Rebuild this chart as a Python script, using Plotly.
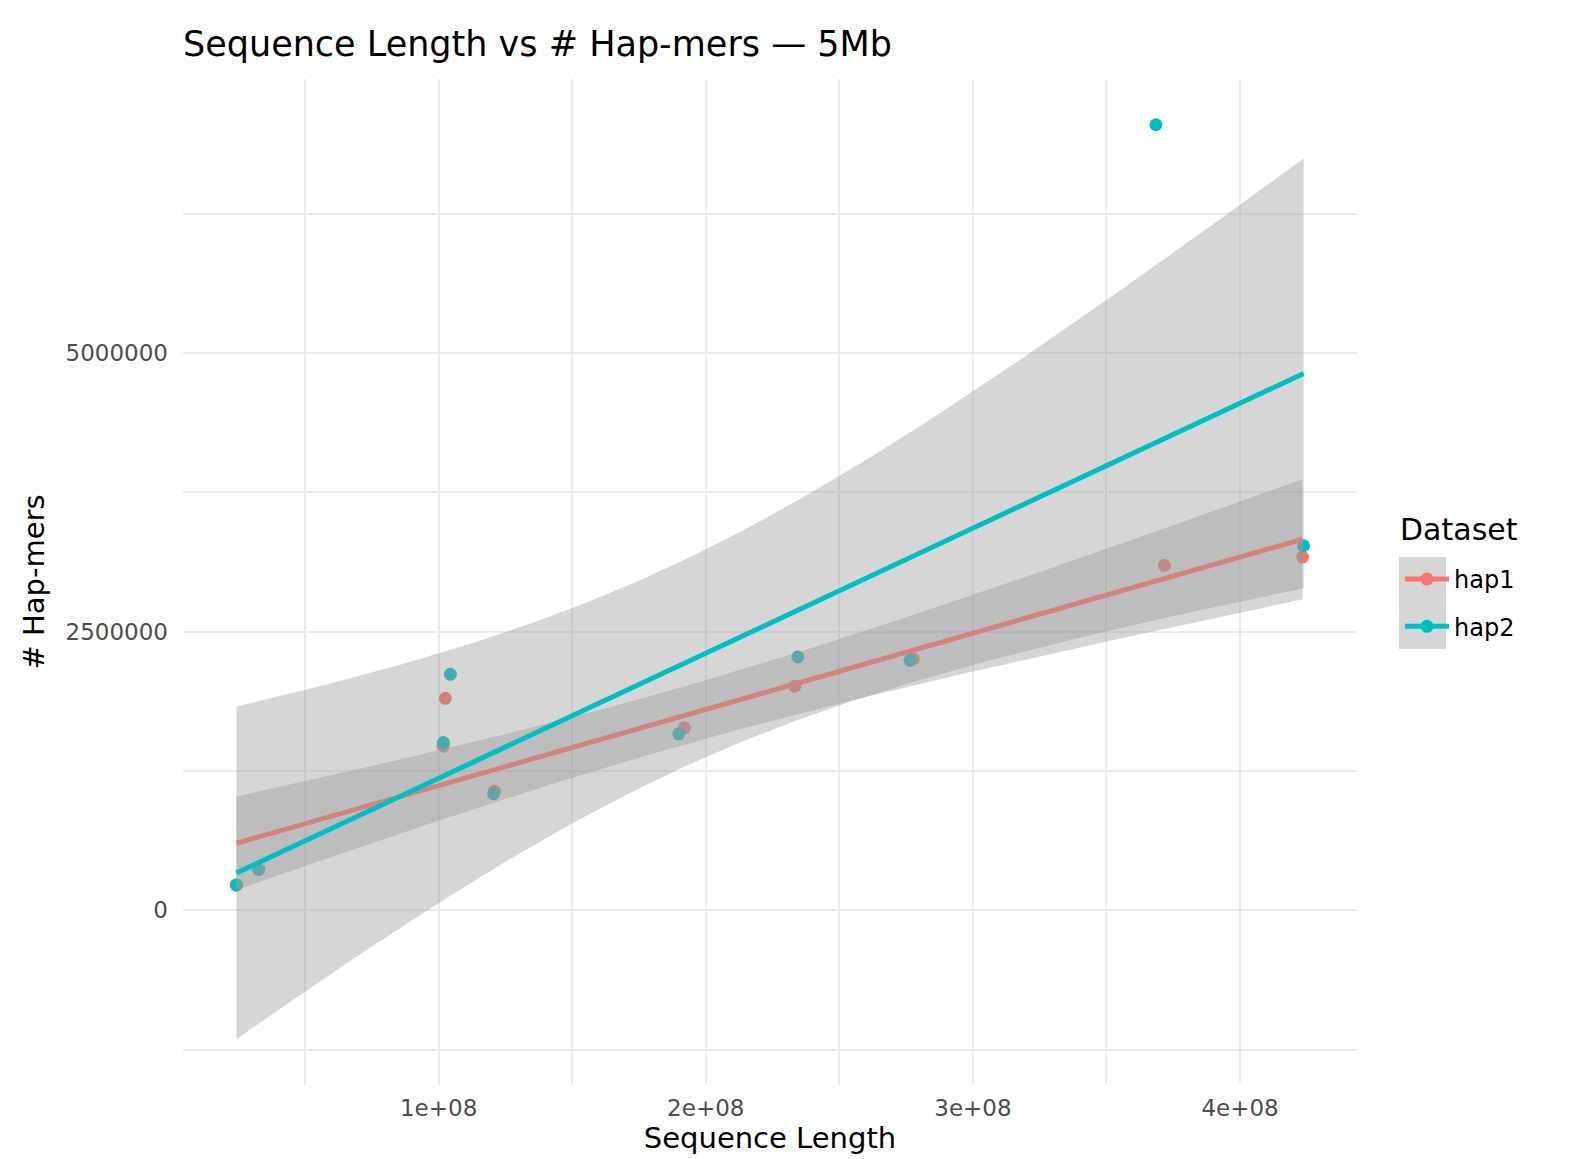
import numpy as np
import plotly.graph_objects as go

# Sequence length (bp) and hap-mer counts per sequence, for each haplotype
hap1_len = [2.43e7, 3.26e7, 1.025e8, 1.017e8, 1.209e8, 1.920e8, 2.333e8, 2.777e8, 3.717e8, 4.234e8]
hap1_mers = [227000, 367000, 1902000, 1472000, 1069000, 1637000, 2010000, 2255000, 3094000, 3169000]

hap2_len = [2.43e7, 3.26e7, 1.044e8, 1.018e8, 1.206e8, 1.899e8, 2.345e8, 2.765e8, 3.685e8, 4.238e8]
hap2_mers = [227000, 367000, 2117000, 1505000, 1046000, 1583000, 2273000, 2243000, 7049000, 3271000]

x_tick_vals = [1e8, 2e8, 3e8, 4e8]
x_tick_text = ["1e+08", "2e+08", "3e+08", "4e+08"]
y_tick_vals = [0, 2500000, 5000000]
y_tick_text = ["0", "2500000", "5000000"]

COL1 = "#F8766D"
COL2 = "#00BFC4"
RIBBON = "rgba(153,153,153,0.4)"
T_CRIT = 2.306004  # 97.5% quantile of Student's t, 8 degrees of freedom


def lm_band(x, y, n=100):
    """Ordinary least squares fit with 95% confidence band for the mean."""
    x = np.asarray(x, float) / 1e8
    y = np.asarray(y, float)
    slope, icpt = np.polyfit(x, y, 1)
    resid = y - (slope * x + icpt)
    s = np.sqrt(np.sum(resid ** 2) / (len(x) - 2))
    sxx = np.sum((x - x.mean()) ** 2)
    xs = np.linspace(x.min(), x.max(), n)
    fit = slope * xs + icpt
    se = s * np.sqrt(1.0 / len(x) + (xs - x.mean()) ** 2 / sxx)
    return xs * 1e8, fit, fit - T_CRIT * se, fit + T_CRIT * se


fits = {
    "hap1": lm_band(hap1_len, hap1_mers),
    "hap2": lm_band(hap2_len, hap2_mers),
}

fig = go.Figure()

# raw points
for name, xv, yv, col in [("hap1", hap1_len, hap1_mers, COL1), ("hap2", hap2_len, hap2_mers, COL2)]:
    fig.add_trace(go.Scatter(x=xv, y=yv, mode="markers", marker=dict(color=col, size=13),
                             showlegend=False, hoverinfo="x+y"))

# smoothers: ribbon then line, per group
for name, col in [("hap1", COL1), ("hap2", COL2)]:
    xs, fit, lo, hi = fits[name]
    fig.add_trace(go.Scatter(x=np.concatenate([xs, xs[::-1]]), y=np.concatenate([hi, lo[::-1]]),
                             mode="lines", fill="toself", fillcolor=RIBBON, line=dict(width=0),
                             showlegend=False, hoverinfo="skip"))
    fig.add_trace(go.Scatter(x=xs, y=fit, mode="lines", line=dict(color=col, width=5),
                             showlegend=False, hoverinfo="skip"))

# legend entries
for name, col in [("hap1", COL1), ("hap2", COL2)]:
    fig.add_trace(go.Scatter(x=[None], y=[None], mode="lines+markers", name=name, legendgroup=name,
                             line=dict(color=col, width=5), marker=dict(color=col, size=13)))

# axis ranges with 5% expansion around data and bands
all_x = np.concatenate([hap1_len, hap2_len])
all_y = np.concatenate([hap1_mers, hap2_mers] + [fits[k][2] for k in fits] + [fits[k][3] for k in fits])
xpad = 0.05 * (all_x.max() - all_x.min())
ypad = 0.05 * (all_y.max() - all_y.min())
xr = [all_x.min() - xpad, all_x.max() + xpad]
yr = [all_y.min() - ypad, all_y.max() + ypad]

x_minor = [v for v in np.arange(0.5e8, 5e8, 1e8) if xr[0] < v < xr[1]]
y_minor = [v for v in np.arange(-1.25e6, 8e6, 2.5e6) if yr[0] < v < yr[1]]

PW, PH = 1174, 1006  # panel size in px
L, B = 183, 74


def px_x(p):
    return (p - L) / PW


def px_y(p):
    return (1159 - B - p) / PH


GRID = "#EBEBEB"
fig.update_layout(
    width=1570, height=1159,
    margin=dict(l=L, r=1570 - L - PW, t=1159 - B - PH, b=B),
    paper_bgcolor="white", plot_bgcolor="white",
    font=dict(family="DejaVu Sans", color="black"),
    title=dict(text="Sequence Length vs # Hap-mers — 5Mb", x=L / 1570, xanchor="left",
               y=1 - 44 / 1159, yanchor="middle", font=dict(size=35, color="black")),
    xaxis=dict(range=xr, tickvals=x_tick_vals, ticktext=x_tick_text, showgrid=True,
               gridcolor=GRID, gridwidth=2.2, zeroline=False, showline=False, ticks="",
               tickfont=dict(size=23, color="#4D4D4D"), ticklabelstandoff=7,
               minor=dict(tickvals=x_minor, showgrid=True, gridcolor=GRID, gridwidth=1.6, ticks=""),
               title=dict(text="Sequence Length", font=dict(size=29, color="black"), standoff=6)),
    yaxis=dict(range=yr, tickvals=y_tick_vals, ticktext=y_tick_text, showgrid=True,
               gridcolor=GRID, gridwidth=2.2, zeroline=False, showline=False, ticks="",
               tickfont=dict(size=23, color="#4D4D4D"), ticklabelstandoff=14,
               minor=dict(tickvals=y_minor, showgrid=True, gridcolor=GRID, gridwidth=1.6, ticks=""),
               title=dict(text="# Hap-mers", font=dict(size=29, color="black"), standoff=12)),
    legend=dict(font=dict(size=24), x=px_x(1400), xanchor="left", y=px_y(557), yanchor="top",
                itemwidth=44, traceorder="grouped", tracegroupgap=13, bgcolor="rgba(0,0,0,0)"),
    annotations=[dict(text="Dataset", xref="paper", yref="paper", x=px_x(1398), y=px_y(529),
                      xanchor="left", yanchor="middle", showarrow=False,
                      font=dict(size=30, color="black"))],
    shapes=[dict(type="rect", xref="paper", yref="paper",
                 x0=px_x(1399), x1=px_x(1446), y0=px_y(649), y1=px_y(557),
                 fillcolor="#D6D6D6", line=dict(width=0), layer="below")],
)

fig.write_html("out.html")
